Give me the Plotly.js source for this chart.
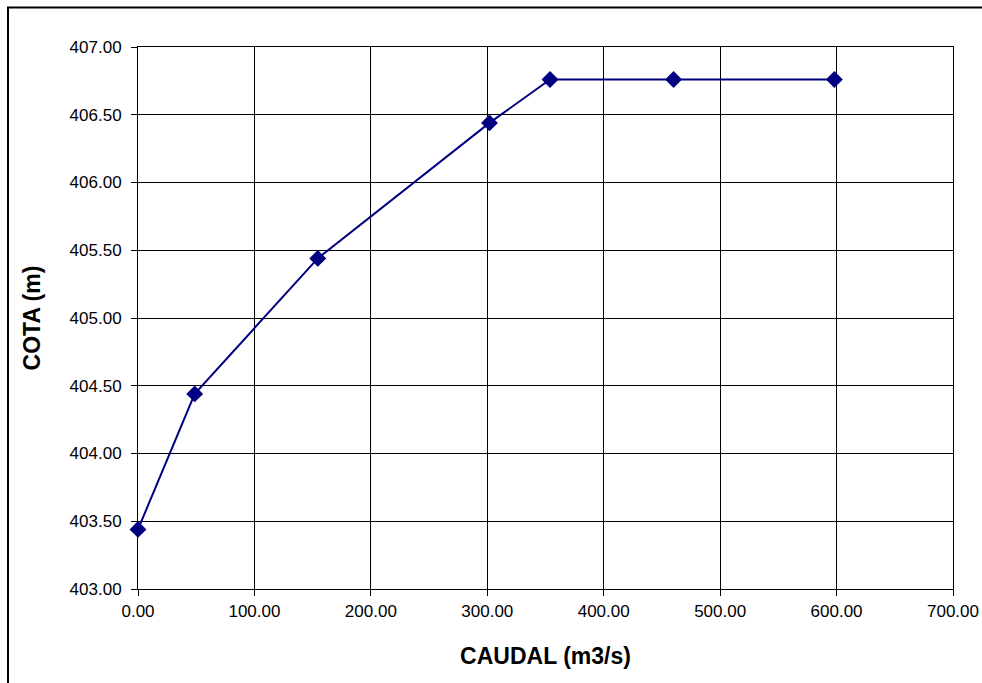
<!DOCTYPE html>
<html>
<head>
<meta charset="utf-8">
<script src="https://cdn.plot.ly/plotly-3.0.1.min.js"></script>
<style>
html,body{margin:0;padding:0;background:#fff;}
#chart{width:982px;height:683px;}
</style>
</head>
<body>
<div id="chart"></div>
<script>
const caudal = [0, 48.7, 154.4, 301.9, 353.9, 460.0, 598.1];
const cota = [403.44, 404.44, 405.44, 406.44, 406.76, 406.76, 406.76];
const xTicks = [0, 100, 200, 300, 400, 500, 600, 700];
const yTicks = [403, 403.5, 404, 404.5, 405, 405.5, 406, 406.5, 407];

const trace = {
  x: caudal, y: cota, type: 'scatter', mode: 'lines+markers',
  line: {color: '#000080', width: 2},
  marker: {symbol: 'diamond', size: 13, color: '#000080'},
  cliponaxis: false
};

const L = 138, R = 29, T = 47, B = 94, W = 982, H = 683;
const pw = W - L - R, ph = H - T - B;
function px2x(p){ return (p - L) / pw; }
function py2y(p){ return 1 - (p - T) / ph; }
const FF = 'Liberation Sans, Arial, sans-serif';

const layout = {
  width: W, height: H,
  margin: {l: L, r: R, t: T, b: B, pad: 0},
  paper_bgcolor: '#fff', plot_bgcolor: '#fff',
  showlegend: false,
  font: {family: FF, color: '#000', size: 17},
  xaxis: {
    range: [0, 700], tickvals: xTicks, ticktext: xTicks.map(v => v.toFixed(2)),
    showgrid: true, gridcolor: '#000', gridwidth: 1,
    zeroline: false, showline: true, linecolor: '#000', linewidth: 1, mirror: true,
    ticks: 'outside', ticklen: 6, tickcolor: '#000',
    tickfont: {size: 17, family: FF}, ticklabelstandoff: 1,
    title: {text: '<b>CAUDAL (m3/s)</b>', font: {size: 23, family: FF}, standoff: 27}
  },
  yaxis: {
    range: [403, 407], tickvals: yTicks, ticktext: yTicks.map(v => v.toFixed(2)),
    showgrid: true, gridcolor: '#000', gridwidth: 1,
    zeroline: false, showline: true, linecolor: '#000', linewidth: 1, mirror: true,
    ticks: 'outside', ticklen: 6, tickcolor: '#000',
    tickfont: {size: 17, family: FF}, ticklabelstandoff: 6,
    title: {text: '<b>COTA (m)</b>', font: {size: 23, family: FF}, standoff: 22}
  },
  shapes: [{
    type: 'rect', xref: 'paper', yref: 'paper',
    x0: px2x(8), x1: px2x(995), y0: py2y(695), y1: py2y(7.5),
    line: {color: '#000', width: 2}, fillcolor: 'rgba(0,0,0,0)', layer: 'above'
  }]
};

Plotly.newPlot('chart', [trace], layout, {staticPlot: true, displayModeBar: false});
</script>
</body>
</html>
